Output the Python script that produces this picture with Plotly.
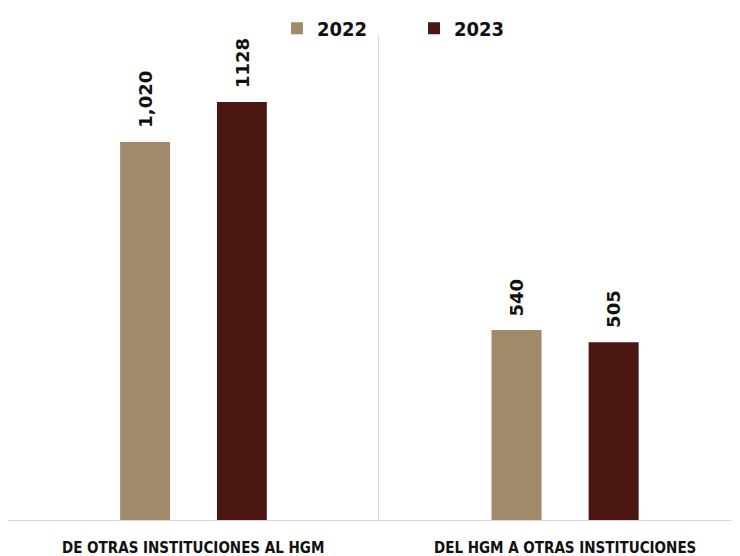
import plotly.graph_objects as go
from plotly.subplots import make_subplots

categories = ["DE OTRAS INSTITUCIONES AL HGM", "DEL HGM A OTRAS INSTITUCIONES"]
years = ["2022", "2023"]
values_2022 = [1020, 540]
values_2023 = [1128, 505]
labels_2022 = ["1,020", "540"]
labels_2023 = ["1128", "505"]

colors = {"2022": "#A08A69", "2023": "#4B1713"}
grid_color = "#D9D9D9"

fig = make_subplots(rows=1, cols=2, horizontal_spacing=0)

series = {"2022": (values_2022, labels_2022), "2023": (values_2023, labels_2023)}
bargap, bargroupgap = 0.478, 0.485
slot = (1 - bargap) / 2

for col in (1, 2):
    i = col - 1
    xr = f"x{'' if col == 1 else col}"
    yr_ = f"y{'' if col == 1 else col}"
    for k, yr in enumerate(years):
        vals, labs = series[yr]
        fig.add_trace(go.Bar(
            x=[categories[i]], y=[vals[i]],
            name=yr, legendgroup=yr, showlegend=(col == 1),
            marker=dict(color=colors[yr], line=dict(width=0)),
            offsetgroup=yr,
        ), row=1, col=col)
        fig.add_annotation(
            x=(k - 0.5) * slot, y=vals[i], text=labs[i], xref=xr, yref=yr_,
            textangle=-90, showarrow=False, yanchor="bottom", xanchor="center",
            yshift=12, font=dict(family="DejaVu Sans", size=18, color="#111", weight="bold"),
        )
    # category label under the panel
    fig.add_annotation(
        x=0, y=-0.035, xref=xr, yref="paper",
        text=categories[i], showarrow=False, yanchor="top",
        font=dict(family="DejaVu Sans Condensed", size=15, color="#111", weight="bold"),
    )

fig.update_xaxes(showticklabels=False, showline=True, linecolor=grid_color,
                 linewidth=1, ticks="", showgrid=False)
fig.update_xaxes(domain=[0, 0.5068], range=[-0.5, 0.5], row=1, col=1)
fig.update_xaxes(domain=[0.5068, 1], range=[-0.5, 0.47], row=1, col=2)
fig.update_yaxes(showticklabels=False, showgrid=False, zeroline=False,
                 showline=True, linecolor=grid_color, linewidth=1, ticks="")
fig.update_yaxes(range=[0, 1309], row=1, col=1)
fig.update_yaxes(range=[0, 1378], row=1, col=2)

# the page body adds an 8px margin, so the figure is sized 8px smaller
fig.update_layout(
    width=732, height=548,
    margin=dict(l=0, r=0, t=27, b=36, autoexpand=False),
    plot_bgcolor="white", paper_bgcolor="white",
    barmode="group", bargap=bargap, bargroupgap=bargroupgap,
    showlegend=True,
    legend=dict(orientation="h", x=0.3675, xanchor="left", y=1.014, yanchor="middle",
                entrywidth=92, entrywidthmode="pixels", itemwidth=30,
                bgcolor="rgba(0,0,0,0)",
                font=dict(family="DejaVu Sans Condensed", size=20, color="#111", weight="bold")),
)

fig.write_html("out.html")
